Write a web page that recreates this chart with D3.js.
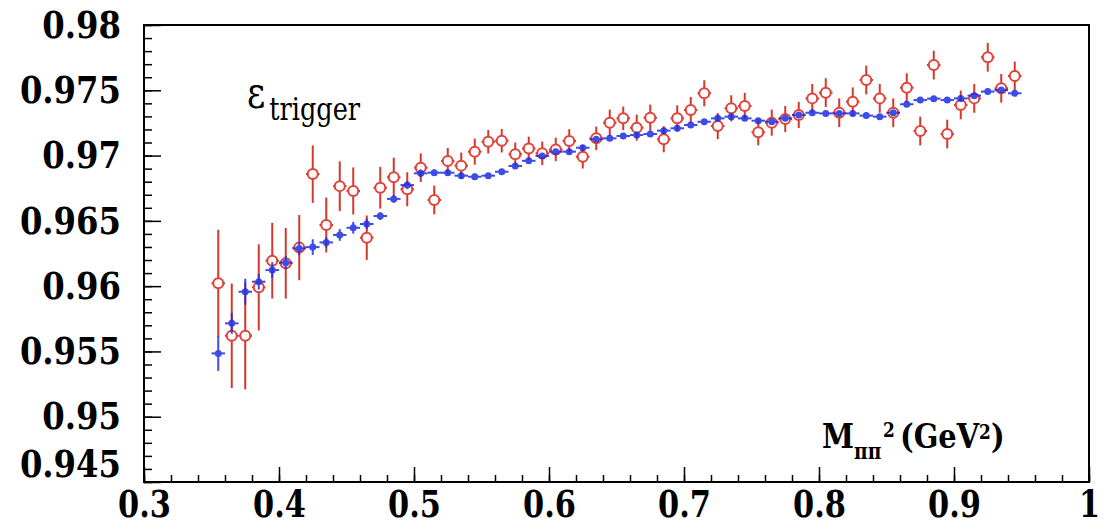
<!DOCTYPE html>
<html>
<head>
<meta charset="utf-8">
<script src="https://cdn.jsdelivr.net/npm/d3@7/dist/d3.min.js"></script>
<style>
    body { margin: 0; background: #fff; }
    svg { display: block; }
    .axis line { stroke: #000; stroke-width: 1.5px; }
    .axis path { display: none; }
</style>
</head>
<body>
<div id="chart"></div>
<script>

// bin centres, M_pipi^2 (GeV^2)
const massBins = [0.355, 0.365, 0.375, 0.385, 0.395, 0.405, 0.415, 0.425, 0.435, 0.445,
    0.455, 0.465, 0.475, 0.485, 0.495, 0.505, 0.515, 0.525, 0.535, 0.545,
    0.555, 0.565, 0.575, 0.585, 0.595, 0.605, 0.615, 0.625, 0.635, 0.645,
    0.655, 0.665, 0.675, 0.685, 0.695, 0.705, 0.715, 0.725, 0.735, 0.745,
    0.755, 0.765, 0.775, 0.785, 0.795, 0.805, 0.815, 0.825, 0.835, 0.845,
    0.855, 0.865, 0.875, 0.885, 0.895, 0.905, 0.915, 0.925, 0.935, 0.945];
const binHalfWidth = 0.005;

// blue: simulation
const mcEff = [0.95485, 0.95715, 0.95957, 0.96034, 0.96123, 0.96180, 0.96289, 0.96299, 0.96335, 0.96392,
    0.96447, 0.96476, 0.96537, 0.96668, 0.96774, 0.96864, 0.96869, 0.96869, 0.96846, 0.96838,
    0.96846, 0.96876, 0.96920, 0.96960, 0.96997, 0.97030, 0.97030, 0.97060, 0.97125, 0.97132,
    0.97150, 0.97157, 0.97165, 0.97191, 0.97209, 0.97234, 0.97259, 0.97285, 0.97298, 0.97285,
    0.97267, 0.97259, 0.97285, 0.97311, 0.97328, 0.97323, 0.97323, 0.97323, 0.97306, 0.97298,
    0.97328, 0.97393, 0.97425, 0.97436, 0.97425, 0.97438, 0.97459, 0.97490, 0.97502, 0.97477];
const mcErr = [0.00134, 0.0008, 0.0010, 0.0006, 0.0006, 0.0005, 0.0005, 0.0006, 0.0004, 0.00045,
    0.00045, 0.0004, 0.0003, 0.0003, 0.0003, 0.0003, 0.00025, 0.00025, 0.00025, 0.00025,
    0.0002, 0.0002, 0.0002, 0.0002, 0.0002, 0.0002, 0.0002, 0.0002, 0.0002, 0.0002,
    0.0002, 0.0002, 0.0002, 0.0002, 0.0002, 0.0002, 0.0002, 0.0002, 0.0002, 0.0002,
    0.0002, 0.0002, 0.0002, 0.0002, 0.0002, 0.0002, 0.0002, 0.0002, 0.0002, 0.0002,
    0.0002, 0.0002, 0.0002, 0.0002, 0.0002, 0.0002, 0.0002, 0.0002, 0.0002, 0.0002];

// red: data
const dataEff = [0.96022, 0.95620, 0.95620, 0.95991, 0.96195, 0.96175, 0.96295, 0.96858, 0.96468, 0.96766,
    0.96729, 0.96371, 0.96754, 0.96834, 0.96742, 0.96907, 0.96660, 0.96958, 0.96923, 0.97030,
    0.97106, 0.97114, 0.97010, 0.97055, 0.97017, 0.97047, 0.97112, 0.96991, 0.97132, 0.97252,
    0.97285, 0.97214, 0.97290, 0.97125, 0.97285, 0.97349, 0.97477, 0.97226, 0.97362, 0.97380,
    0.97178, 0.97252, 0.97280, 0.97311, 0.97438, 0.97482, 0.97328, 0.97412, 0.97579, 0.97438,
    0.97328, 0.97520, 0.97188, 0.97693, 0.97165, 0.97388, 0.97438, 0.97753, 0.97515, 0.97609];
const dataErr = [0.0041, 0.0040, 0.0041, 0.0033, 0.0029, 0.0027, 0.0025, 0.0022, 0.0021, 0.0019,
    0.0018, 0.0017, 0.0016, 0.0015, 0.0013, 0.0011, 0.0011, 0.0010, 0.0010, 0.0010,
    0.0009, 0.0009, 0.0009, 0.0009, 0.0009, 0.0009, 0.0009, 0.0009, 0.0009, 0.0010,
    0.0009, 0.0010, 0.0010, 0.0010, 0.0010, 0.0010, 0.0010, 0.0010, 0.0010, 0.0010,
    0.0010, 0.0010, 0.0010, 0.0010, 0.0011, 0.0011, 0.0011, 0.0011, 0.0011, 0.0011,
    0.0011, 0.0011, 0.0011, 0.0011, 0.0011, 0.0011, 0.0011, 0.0011, 0.0011, 0.0011];

const xTickValues = [0.3, 0.4, 0.5, 0.6, 0.7, 0.8, 0.9, 1.0];
const xTickLabels = ["0.3", "0.4", "0.5", "0.6", "0.7", "0.8", "0.9", "1"];
const yTickValues = [0.945, 0.95, 0.955, 0.96, 0.965, 0.97, 0.975, 0.98];
const yTickLabels = ["0.945", "0.95", "0.955", "0.96", "0.965", "0.97", "0.975", "0.98"];


class EffVis {

    constructor(parentElement) {
        this.parentElement = parentElement;
        this.initVis();
    }

    initVis() {
        let vis = this;

        vis.margin = {top: 25, right: 17, bottom: 48, left: 144};
        vis.width = 1106 - vis.margin.left - vis.margin.right;
        vis.height = 530 - vis.margin.top - vis.margin.bottom;

        // only serif face available here is DejaVu Serif, squeeze it a bit to look like Times
        vis.serif = "DejaVu Serif";

        vis.root = d3.select("#" + vis.parentElement).append("svg")
            .attr("width", 1106)
            .attr("height", 530);

        vis.root.append("rect")
            .attr("width", 1106).attr("height", 530)
            .attr("fill", "#fff");

        vis.svg = vis.root.append("g")
            .attr("transform", `translate(${vis.margin.left}, ${vis.margin.top})`);

        vis.x = d3.scaleLinear().domain([0.3, 1.0]).range([0, vis.width]);
        vis.y = d3.scaleLinear().domain([0.945, 0.98]).range([vis.height, 0]);

        vis.red = "rgb(226, 66, 54)";
        vis.blue = "rgb(28, 46, 226)";

        vis.data = massBins.map((m, i) => ({
            m: m, mc: mcEff[i], mcErr: mcErr[i], dt: dataEff[i], dtErr: dataErr[i]
        }));

        vis.drawAxes();
        vis.drawData();
        vis.drawLabels();
    }

    drawAxes() {
        let vis = this;

        // minor ticks first
        vis.svg.append("g")
            .attr("class", "axis")
            .attr("transform", `translate(0, ${vis.height})`)
            .call(d3.axisBottom(vis.x).tickValues(d3.range(0.3, 1.001, 0.02)).tickSize(-7).tickSizeOuter(0).tickFormat(""));

        vis.svg.append("g")
            .attr("class", "axis")
            .call(d3.axisLeft(vis.y).tickValues(d3.range(0.945, 0.98001, 0.001)).tickSize(-8).tickSizeOuter(0).tickFormat(""));

        vis.xAxis = d3.axisBottom(vis.x)
            .tickValues(xTickValues)
            .tickSize(-15)
            .tickSizeOuter(0)
            .tickPadding(8)
            .tickFormat((d, i) => xTickLabels[i]);

        vis.yAxis = d3.axisLeft(vis.y)
            .tickValues(yTickValues)
            .tickSize(-17)
            .tickSizeOuter(0)
            .tickPadding(23)
            .tickFormat((d, i) => yTickLabels[i]);

        // the axis sets its own font on the group, so override after the call
        vis.svg.append("g")
            .attr("class", "axis x-axis")
            .attr("transform", `translate(0, ${vis.height})`)
            .call(vis.xAxis)
            .attr("font-family", vis.serif)
            .attr("font-weight", "bold")
            .attr("font-size", 38);

        vis.svg.append("g")
            .attr("class", "axis y-axis")
            .call(vis.yAxis)
            .attr("font-family", vis.serif)
            .attr("font-weight", "bold")
            .attr("font-size", 38);

        vis.svg.selectAll(".x-axis .tick text")
            .attr("fill", "#000")
            .attr("transform", "scale(0.8, 1)");

        vis.svg.selectAll(".y-axis .tick text")
            .attr("fill", "#000")
            .attr("x", -23 / 0.85)
            .attr("transform", "scale(0.85, 1)");

        // lowest label sits a bit higher, like ROOT does
        vis.svg.selectAll(".y-axis .tick text")
            .filter(d => d === 0.945)
            .attr("dy", "-0.14em");

        // frame
        vis.svg.append("rect")
            .attr("width", vis.width)
            .attr("height", vis.height)
            .attr("fill", "none")
            .attr("stroke", "#000")
            .attr("stroke-width", 2);
    }

    drawData() {
        let vis = this;
        let r = 5;

        // red points (open circles, error lines stop at the marker)
        let red = vis.svg.append("g").attr("class", "data-points")
            .selectAll("g").data(vis.data).enter().append("g");

        red.append("line")
            .attr("x1", d => vis.x(d.m - binHalfWidth)).attr("x2", d => vis.x(d.m) - r)
            .attr("y1", d => vis.y(d.dt)).attr("y2", d => vis.y(d.dt));
        red.append("line")
            .attr("x1", d => vis.x(d.m) + r).attr("x2", d => vis.x(d.m + binHalfWidth))
            .attr("y1", d => vis.y(d.dt)).attr("y2", d => vis.y(d.dt));
        red.append("line")
            .attr("x1", d => vis.x(d.m)).attr("x2", d => vis.x(d.m))
            .attr("y1", d => vis.y(d.dt + d.dtErr)).attr("y2", d => vis.y(d.dt) - r);
        red.append("line")
            .attr("x1", d => vis.x(d.m)).attr("x2", d => vis.x(d.m))
            .attr("y1", d => vis.y(d.dt) + r).attr("y2", d => vis.y(d.dt - d.dtErr));
        red.selectAll("line")
            .attr("stroke", "rgb(212, 56, 44)")
            .attr("stroke-width", 2);
        red.append("circle")
            .attr("cx", d => vis.x(d.m))
            .attr("cy", d => vis.y(d.dt))
            .attr("r", r)
            .attr("fill", "none")
            .attr("stroke", vis.red)
            .attr("stroke-width", 2);

        // blue points
        let blue = vis.svg.append("g").attr("class", "mc-points")
            .attr("opacity", 0.85)
            .selectAll("g").data(vis.data).enter().append("g");

        blue.append("line")
            .attr("x1", d => vis.x(d.m - binHalfWidth)).attr("x2", d => vis.x(d.m + binHalfWidth))
            .attr("y1", d => vis.y(d.mc)).attr("y2", d => vis.y(d.mc));
        blue.append("line")
            .attr("x1", d => vis.x(d.m)).attr("x2", d => vis.x(d.m))
            .attr("y1", d => vis.y(d.mc + d.mcErr)).attr("y2", d => vis.y(d.mc - d.mcErr));
        blue.selectAll("line")
            .attr("stroke", vis.blue)
            .attr("stroke-width", 2);
        blue.append("circle")
            .attr("cx", d => vis.x(d.m))
            .attr("cy", d => vis.y(d.mc))
            .attr("r", 3.5)
            .attr("fill", vis.blue);
    }

    drawLabels() {
        let vis = this;

        // epsilon_trigger
        let eps = vis.root.append("text")
            .attr("transform", "translate(247, 108) scale(0.8, 1)")
            .attr("font-family", vis.serif)
            .attr("fill", "#000");
        eps.append("tspan").attr("font-size", 44).text("ε");
        eps.append("tspan").attr("font-size", 32).attr("dx", 5).attr("dy", 12).text("trigger");

        // axis title
        let title = vis.root.append("text")
            .attr("transform", "translate(822, 448) scale(0.85, 1)")
            .attr("font-family", vis.serif)
            .attr("font-weight", "bold")
            .attr("font-size", 34)
            .attr("fill", "#000");
        title.append("tspan").text("M");
        title.append("tspan").attr("font-size", 22).attr("dy", 11).text("ππ");
        title.append("tspan").attr("font-size", 20).attr("dy", -22).attr("dx", 2).text("2");
        title.append("tspan").attr("dy", 11).attr("dx", 6).text("(GeV");
        title.append("tspan").attr("font-size", 20).attr("dy", -9).text("2");
        title.append("tspan").attr("dy", 9).text(")");
    }
}

let effVis = new EffVis("chart");

</script>
</body>
</html>
